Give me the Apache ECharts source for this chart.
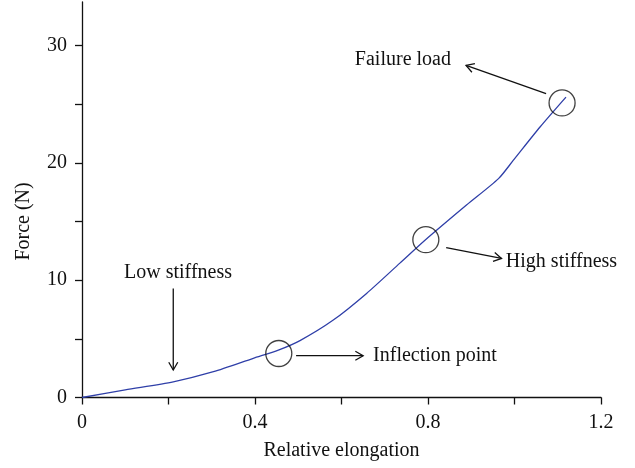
<!DOCTYPE html>
<html><head><meta charset="utf-8">
<script src="https://cdn.jsdelivr.net/npm/echarts@6/dist/echarts.min.js"></script>
<style>html,body{margin:0;padding:0;background:#fff}#c{width:635px;height:468px}</style>
</head><body><div id="c"></div>
<script>
// ---- data ----
const elongation = [0, 0.1, 0.211, 0.304, 0.396, 0.454, 0.504, 0.581, 0.658, 0.735, 0.793, 0.889, 0.963, 0.997, 1.059, 1.119];
const force      = [0, 0.65, 1.34, 2.2, 3.34, 4.04, 4.85, 6.6, 8.87, 11.45, 13.4, 16.4, 18.65, 20.2, 23.05, 25.6];
const xTickValues  = [0, 0.2, 0.4, 0.6, 0.8, 1.0, 1.2];
const xLabelValues = [0, 0.4, 0.8, 1.2];
const yTickValues  = [0, 5, 10, 15, 20, 25, 30];
const yLabelValues = [0, 10, 20, 30];
const circleX = [0.455, 0.795, 1.110];
const circleY = [3.75, 13.45, 25.1];
const arrowFrom = [[0.211, 9.29], [0.495, 3.56], [0.842, 12.78], [1.073, 25.89]];
const arrowTo   = [[0.211, 2.34], [0.650, 3.56], [0.970, 11.85], [0.888, 28.3]];
const noteText  = ['Low stiffness', 'Inflection point', 'High stiffness', 'Failure load'];
const noteAt    = [[0.222, 10.6], [0.673, 3.6], [0.980, 11.53], [0.742, 28.75]];
const noteAlign = ['center', 'left', 'left', 'center'];

const FONT = '"Liberation Serif", "DejaVu Serif", serif';
const FS = 20;

const chart = echarts.init(document.getElementById('c'), null, {renderer: 'canvas'});
const option = {
  animation: false,
  backgroundColor: '#fff',
  grid: {left: 82, right: 34, top: 2, bottom: 70.5, containLabel: false},
  xAxis: {
    type: 'value', min: 0, max: 1.2, interval: 0.2,
    name: 'Relative elongation', nameLocation: 'middle', nameGap: 43,
    nameTextStyle: {fontFamily: FONT, fontSize: FS, color: '#111'},
    axisLine: {show: true, onZero: false, lineStyle: {color: '#111', width: 1.3}},
    axisTick: {show: true, length: 7, customValues: xTickValues, lineStyle: {color: '#111', width: 1.3}},
    axisLabel: {customValues: xLabelValues, margin: 15, fontFamily: FONT, fontSize: FS, color: '#111'},
    splitLine: {show: false}
  },
  yAxis: {
    type: 'value', min: 0, max: 33.7,
    axisLine: {show: true, onZero: false, lineStyle: {color: '#111', width: 1.3}},
    axisTick: {show: true, length: 7, customValues: yTickValues, lineStyle: {color: '#111', width: 1.3}},
    axisLabel: {customValues: yLabelValues, margin: 15, fontFamily: FONT, fontSize: FS, color: '#111'},
    splitLine: {show: false}
  },
  series: [
    {
      type: 'line', data: elongation.map((x, i) => [x, force[i]]),
      showSymbol: false, smooth: 0.25,
      lineStyle: {color: '#2f3fa8', width: 1.3}, z: 2
    },
    {
      type: 'scatter', data: circleX.map((x, i) => [x, circleY[i]]),
      symbol: 'circle', symbolSize: 26,
      itemStyle: {color: 'rgba(0,0,0,0)', borderColor: '#111', borderWidth: 1.3}, z: 3
    }
  ]
};
chart.setOption(option);

// annotations positioned through the axes
const px = p => chart.convertToPixel({gridIndex: 0}, p);
const g = [];
arrowFrom.forEach((f, i) => {
  const a = px(f), b = px(arrowTo[i]);
  const ang = Math.atan2(b[1] - a[1], b[0] - a[0]);
  const L = 9, h = Math.PI / 6;
  const p1 = [b[0] - L * Math.cos(ang - h), b[1] - L * Math.sin(ang - h)];
  const p2 = [b[0] - L * Math.cos(ang + h), b[1] - L * Math.sin(ang + h)];
  g.push({type: 'line', shape: {x1: a[0], y1: a[1], x2: b[0], y2: b[1]}, style: {stroke: '#111', lineWidth: 1.3}, silent: true});
  g.push({type: 'polyline', shape: {points: [p1, b, p2]}, style: {stroke: '#111', lineWidth: 1.3, fill: null}, silent: true});
});
noteText.forEach((t, i) => {
  const p = px(noteAt[i]);
  g.push({type: 'text', x: p[0], y: p[1], style: {text: t, fill: '#111', font: FS + 'px ' + FONT, align: noteAlign[i], verticalAlign: 'middle'}, silent: true});
});
// y axis name centred on the 0–30 range
const yc = px([0, 15]);
g.push({type: 'text', x: 24, y: yc[1], rotation: Math.PI / 2, style: {text: 'Force (N)', fill: '#111', font: FS + 'px ' + FONT, align: 'center', verticalAlign: 'middle'}, silent: true});
chart.setOption({graphic: g});
</script>
</body></html>
